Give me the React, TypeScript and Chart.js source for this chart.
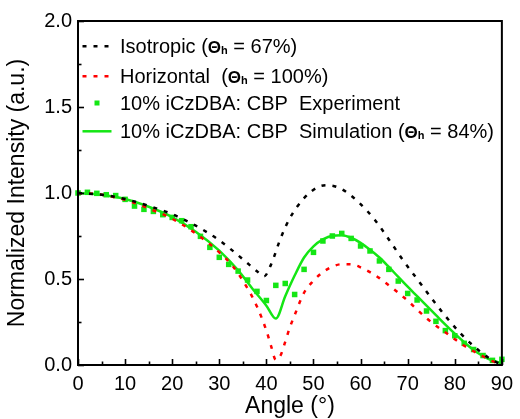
import React, { useEffect, useRef } from 'react';
import { Chart, registerables } from 'chart.js';

Chart.register(...registerables);

// ---------- data ----------
const isoAngles = [0, 5, 10, 15, 20, 25, 30, 35, 38, 39.5, 41, 43, 45, 48, 51, 53, 55, 57, 60, 63, 66, 69, 72, 75, 78, 81, 84, 87, 90];
const isoValues = [1.0, 0.99, 0.965, 0.925, 0.877, 0.81, 0.725, 0.615, 0.545, 0.515, 0.585, 0.735, 0.855, 0.97, 1.035, 1.045, 1.035, 1.005, 0.935, 0.845, 0.73, 0.61, 0.5, 0.39, 0.285, 0.19, 0.11, 0.045, 0.0];

const horAngles = [0, 5, 10, 15, 20, 25, 30, 33, 36, 38, 40, 41, 42, 43, 44, 45, 46, 48, 50, 52, 54, 56, 58, 60, 62, 64, 66, 68, 70, 72, 74, 76, 78, 80, 82, 84, 86, 88, 90];
const horValues = [1.0, 0.99, 0.96, 0.91, 0.85, 0.765, 0.655, 0.57, 0.445, 0.34, 0.2, 0.11, 0.03, 0.055, 0.135, 0.22, 0.29, 0.42, 0.49, 0.54, 0.572, 0.586, 0.585, 0.568, 0.54, 0.505, 0.463, 0.42, 0.374, 0.322, 0.272, 0.228, 0.19, 0.15, 0.112, 0.08, 0.05, 0.022, 0.0];

const simAngles = [0, 5, 10, 15, 20, 25, 30, 34, 37, 40, 42, 44, 46, 48, 50, 52, 54, 56, 58, 60, 62, 64, 66, 68, 70, 72, 74, 76, 78, 80, 82, 84, 86, 88, 90];
const simValues = [1.0, 0.99, 0.965, 0.92, 0.86, 0.775, 0.665, 0.55, 0.445, 0.345, 0.27, 0.4, 0.52, 0.625, 0.69, 0.73, 0.752, 0.755, 0.74, 0.71, 0.67, 0.625, 0.57, 0.512, 0.455, 0.4, 0.345, 0.29, 0.235, 0.182, 0.132, 0.087, 0.052, 0.026, 0.01];

const expAngles = [0, 2, 4, 6, 8, 10, 12, 14, 16, 18, 20, 22, 24, 26, 28, 30, 32, 34, 36, 38, 40, 42, 44, 46, 48, 50, 52, 54, 56, 58, 60, 62, 64, 66, 68, 70, 72, 74, 76, 78, 80, 82, 84, 86, 88, 90];
const expValues = [1.0, 1.004, 0.998, 0.99, 0.985, 0.963, 0.924, 0.905, 0.893, 0.874, 0.858, 0.839, 0.804, 0.748, 0.684, 0.626, 0.585, 0.546, 0.494, 0.428, 0.375, 0.463, 0.474, 0.41, 0.556, 0.655, 0.721, 0.75, 0.765, 0.736, 0.692, 0.663, 0.605, 0.556, 0.488, 0.416, 0.378, 0.314, 0.254, 0.2, 0.17, 0.126, 0.09, 0.055, 0.027, 0.033];

const seriesLabels = [
  'Isotropic (Θh = 67%)',
  'Horizontal  (Θh = 100%)',
  '10% iCzDBA: CBP  Experiment',
  '10% iCzDBA: CBP  Simulation (Θh = 84%)',
];

// legend text pieces: [text, style]  n=normal, b=bold, s=bold subscript
const legendPieces: [string, string][][] = [
  [['Isotropic (', 'n'], ['Θ', 'b'], ['h', 's'], [' = 67%)', 'n']],
  [['Horizontal  (', 'n'], ['Θ', 'b'], ['h', 's'], [' = 100%)', 'n']],
  [['10% iCzDBA: CBP  Experiment', 'n']],
  [['10% iCzDBA: CBP  Simulation (', 'n'], ['Θ', 'b'], ['h', 's'], [' = 84%)', 'n']],
];

const xMajor = [0, 10, 20, 30, 40, 50, 60, 70, 80, 90];
const yMajor = [0, 0.5, 1.0, 1.5, 2.0];

const GREEN = '#14e614';
const RED = '#ff0000';
const BLACK = '#000000';
const FONT = "'Liberation Sans', Arial, sans-serif";

const pts = (xs: number[], ys: number[]) => xs.map((x, i) => ({ x, y: ys[i] }));

const framePlugin = {
  id: 'frameTicks',
  afterDraw(chart: any) {
    const { ctx, chartArea, scales } = chart;
    const { left, right, top, bottom } = chartArea;
    ctx.save();
    ctx.strokeStyle = BLACK;
    ctx.lineWidth = 2;
    ctx.strokeRect(left, top, right - left, bottom - top);
    ctx.lineWidth = 1.6;
    for (let v = 0; v <= 90; v += 5) {
      const px = Math.round(scales.x.getPixelForValue(v)) + 0.5;
      const len = v % 10 === 0 ? 6 : 3.5;
      ctx.beginPath();
      ctx.moveTo(px, bottom);
      ctx.lineTo(px, bottom - len);
      ctx.stroke();
    }
    for (let v = 0; v <= 2.0001; v += 0.25) {
      const py = Math.round(scales.y.getPixelForValue(v)) + 0.5;
      const len = Math.abs(v * 2 - Math.round(v * 2)) < 1e-6 ? 6 : 3.5;
      ctx.beginPath();
      ctx.moveTo(left, py);
      ctx.lineTo(left + len, py);
      ctx.stroke();
    }
    // legend
    const rowsY = [53.3, 83.3, 110, 138.3];
    const kinds = ['dashB', 'dashR', 'square', 'line'];
    const sx0 = left + 4.5, sx1 = left + 33.5;
    const tx = left + 42;
    for (let r = 0; r < 4; r++) {
      const by = rowsY[r];
      const cy = by - 7;
      ctx.save();
      if (kinds[r] === 'dashB' || kinds[r] === 'dashR') {
        ctx.strokeStyle = kinds[r] === 'dashB' ? BLACK : RED;
        ctx.lineWidth = 2.5;
        ctx.setLineDash([4, 7]);
        ctx.beginPath();
        ctx.moveTo(sx0, cy);
        ctx.lineTo(sx1, cy);
        ctx.stroke();
      } else if (kinds[r] === 'square') {
        ctx.fillStyle = GREEN;
        ctx.fillRect((sx0 + sx1) / 2 - 2.5, cy - 2.5, 5, 5);
      } else {
        ctx.strokeStyle = GREEN;
        ctx.lineWidth = 2.5;
        ctx.beginPath();
        ctx.moveTo(sx0, cy);
        ctx.lineTo(sx1, cy);
        ctx.stroke();
      }
      ctx.restore();
      let x = tx;
      ctx.fillStyle = BLACK;
      ctx.textBaseline = 'alphabetic';
      ctx.textAlign = 'left';
      for (const [t, s] of legendPieces[r]) {
        let yy = by;
        if (s === 'n') ctx.font = `20px ${FONT}`;
        else if (s === 'b') ctx.font = `bold 17px ${FONT}`;
        else { ctx.font = `bold 11px ${FONT}`; yy = by + 1; }
        ctx.fillText(t, x, yy);
        x += ctx.measureText(t).width;
      }
    }
    ctx.restore();
  },
};

export default function App() {
  const ref = useRef<HTMLCanvasElement | null>(null);
  useEffect(() => {
    document.body.style.margin = '0';
    const canvas = ref.current;
    if (!canvas) return;
    const chart = new Chart(canvas, {
      type: 'scatter',
      data: {
        datasets: [
          {
            label: seriesLabels[0],
            data: pts(isoAngles, isoValues),
            showLine: true,
            borderColor: BLACK,
            borderWidth: 2.5,
            borderDash: [4, 7],
            pointRadius: 0,
            cubicInterpolationMode: 'monotone',
          },
          {
            label: seriesLabels[1],
            data: pts(horAngles, horValues),
            showLine: true,
            borderColor: RED,
            borderWidth: 2.5,
            borderDash: [4, 7],
            pointRadius: 0,
            cubicInterpolationMode: 'monotone',
          },
          {
            label: seriesLabels[2],
            data: pts(expAngles, expValues),
            showLine: false,
            pointStyle: 'rect',
            pointRadius: 3.9,
            backgroundColor: GREEN,
            borderWidth: 0,
          },
          {
            label: seriesLabels[3],
            data: pts(simAngles, simValues),
            showLine: true,
            borderColor: GREEN,
            borderWidth: 2.5,
            pointRadius: 0,
            cubicInterpolationMode: 'monotone',
          },
        ] as any,
      },
      options: {
        animation: false,
        responsive: false,
        devicePixelRatio: 1,
        clip: false as any,
        layout: { padding: { top: 21, right: 11, left: 0, bottom: 0 } },
        plugins: { legend: { display: false }, tooltip: { enabled: false } },
        scales: {
          x: {
            type: 'linear',
            min: 0,
            max: 90,
            afterFit: (s: any) => { s.height = 54; },
            afterBuildTicks: (s: any) => { s.ticks = xMajor.map((v) => ({ value: v })); },
            ticks: { color: BLACK, font: { family: FONT, size: 20 }, padding: 7, maxRotation: 0 },
            grid: { display: false, drawTicks: false },
            border: { display: false },
            title: { display: true, text: 'Angle (°)', color: BLACK, font: { family: FONT, size: 23 }, padding: { top: 0, bottom: -1 } },
          },
          y: {
            type: 'linear',
            min: 0,
            max: 2,
            afterFit: (s: any) => { s.width = 78; },
            afterBuildTicks: (s: any) => { s.ticks = yMajor.map((v) => ({ value: v })); },
            ticks: { color: BLACK, font: { family: FONT, size: 20 }, padding: 6, callback: (v: any) => Number(v).toFixed(1) },
            grid: { display: false, drawTicks: false },
            border: { display: false },
            title: { display: true, text: 'Normalized Intensity (a.u.)', color: BLACK, font: { family: FONT, size: 23 }, padding: { top: 4, bottom: 0 } },
          },
        },
      },
      plugins: [framePlugin],
    });
    return () => chart.destroy();
  }, []);
  return (
    <div style={{ width: 520, height: 419 }}>
      <canvas ref={ref} width={520} height={419} style={{ width: 520, height: 419, display: 'block' }} />
    </div>
  );
}
